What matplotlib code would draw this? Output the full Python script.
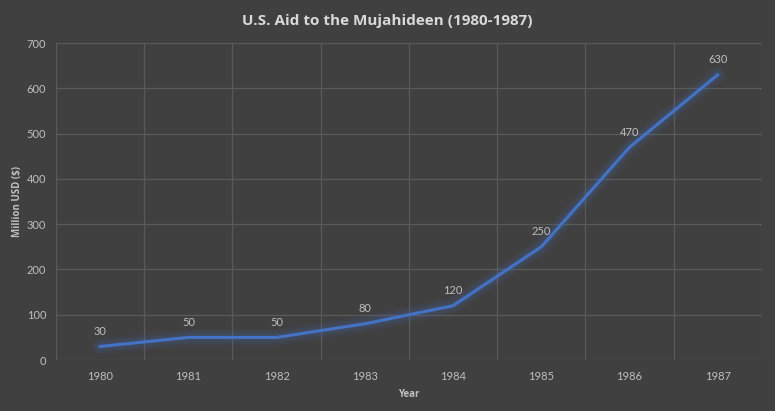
import numpy as np
import matplotlib.pyplot as plt

years = ['1980', '1981', '1982', '1983', '1984', '1985', '1986', '1987']
aid = [30, 50, 50, 80, 120, 250, 470, 630]

bg = '#404040'
grid_c = '#5a5a5a'
text_c = '#bfbfbf'
line_c = '#4472c4'

plt.rcParams['font.family'] = ['Lato', 'DejaVu Sans']
bold_font = ['Open Sans', 'DejaVu Sans']

fig = plt.figure(figsize=(7.75, 4.11), dpi=100)
fig.patch.set_facecolor(bg)
ax = fig.add_axes([0.0723, 0.124, 0.9107, 0.771])
ax.set_facecolor(bg)

x = np.arange(len(years))

# glow under the line
for w, a in [(12, 0.06), (9, 0.08), (6, 0.12)]:
    ax.plot(x, aid, color=line_c, linewidth=w, alpha=a, solid_capstyle='round', solid_joinstyle='round')
ax.plot(x, aid, color=line_c, linewidth=2.2, solid_joinstyle='round')

for xi, v in zip(x, aid):
    ax.annotate(str(v), (xi, v), xytext=(0, 7), textcoords='offset points',
                ha='center', va='bottom', fontsize=8, color=text_c)

ax.set_xlim(-0.5, len(years) - 0.5)
ax.set_ylim(0, 700)
ax.set_yticks(range(0, 701, 100))
ax.set_xticks(x)
ax.set_xticklabels(years)
ax.set_xticks(np.arange(-0.5, len(years), 1), minor=True)

ax.grid(axis='y', which='major', color=grid_c, linewidth=0.9)
ax.grid(axis='x', which='minor', color=grid_c, linewidth=0.9)
ax.set_axisbelow(True)
for s in ax.spines.values():
    s.set_visible(False)
ax.tick_params(which='both', length=0, colors=text_c, labelsize=8)
ax.tick_params(axis='x', pad=8)
ax.tick_params(axis='y', pad=7)

ax.set_xlabel('Year', fontsize=7, fontweight='bold', family=bold_font, color=text_c, labelpad=5)
ax.set_ylabel('Million USD ($)', fontsize=7, fontweight='bold', family=bold_font, color=text_c, labelpad=3)
fig.suptitle('U.S. Aid to the Mujahideen (1980-1987)', y=0.965, fontsize=11,
             fontweight='bold', family=bold_font, color='#d9d9d9')

fig.savefig('out.png', dpi=100, facecolor=bg)
